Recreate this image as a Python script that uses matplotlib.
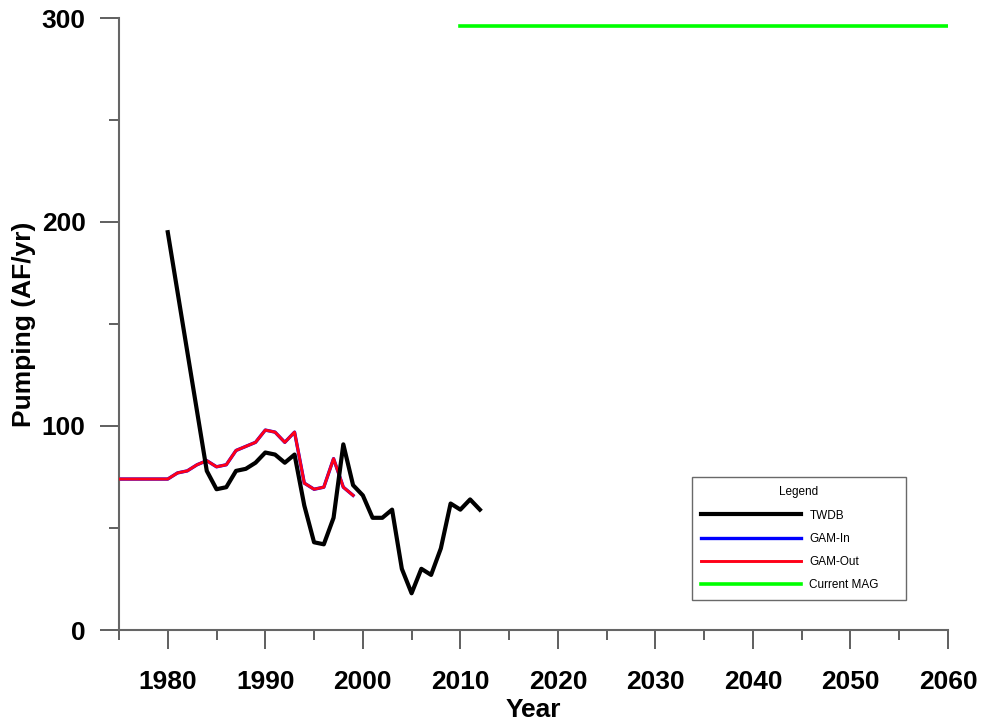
import matplotlib
matplotlib.use('Agg')
import matplotlib.pyplot as plt
from matplotlib.ticker import MultipleLocator

# TWDB historical pumping
twdb_years = [1980, 1984, 1985, 1986, 1987, 1988, 1989, 1990, 1991, 1992,
              1993, 1994, 1995, 1996, 1997, 1998, 1999, 2000, 2001, 2002,
              2003, 2004, 2005, 2006, 2007, 2008, 2009, 2010, 2011, 2012]
twdb_vals = [195, 78, 69, 70, 78, 79, 82, 87, 86, 82,
             86, 61, 43, 42, 55, 91, 71, 66, 55, 55,
             59, 30, 18, 30, 27, 40, 62, 59, 64, 59]

# GAM pumping (input and output coincide)
gam_years = [1975, 1976, 1977, 1978, 1979, 1980, 1981, 1982, 1983, 1984,
             1985, 1986, 1987, 1988, 1989, 1990, 1991, 1992, 1993, 1994,
             1995, 1996, 1997, 1998, 1999]
gam_in_vals = [74, 74, 74, 74, 74, 74, 77, 78, 81, 83,
               80, 81, 88, 90, 92, 98, 97, 92, 97, 72,
               69, 70, 84, 70, 66]
gam_out_vals = [74, 74, 74, 74, 74, 74, 77, 78, 81, 83,
                80, 81, 88, 90, 92, 98, 97, 92, 97, 72,
                69, 70, 84, 70, 66]

# current MAG
mag_years = [2010, 2060]
mag_vals = [296, 296]

x_ticks = [1980, 1990, 2000, 2010, 2020, 2030, 2040, 2050, 2060]
y_ticks = [0, 100, 200, 300]

plt.rcParams['font.family'] = ['Liberation Sans', 'DejaVu Sans']

fig = plt.figure(figsize=(9.84, 7.21), dpi=100)
ax = fig.add_axes([119/984, 1 - 630/721, 829/984, 612/721])

ax.plot(twdb_years, twdb_vals, color='black', lw=3.0, label='TWDB', zorder=4)
ax.plot(gam_years, gam_in_vals, color='#0000ff', lw=2.4, label='GAM-In', zorder=2)
ax.plot(gam_years, gam_out_vals, color='#ff0018', lw=2.1, label='GAM-Out', zorder=3)
ax.plot(mag_years, mag_vals, color='#00ff00', lw=2.6, label='Current MAG', zorder=3)

ax.set_xlim(1975, 2060)
ax.set_ylim(0, 300)
ax.set_xticks(x_ticks)
ax.set_yticks(y_ticks)
ax.xaxis.set_minor_locator(MultipleLocator(5))
ax.yaxis.set_minor_locator(MultipleLocator(50))

for side in ['top', 'right']:
    ax.spines[side].set_visible(False)
for side in ['left', 'bottom']:
    ax.spines[side].set_color('#666666')
    ax.spines[side].set_linewidth(1.5)

ax.tick_params(which='major', length=14, width=1.2, color='#444444',
               labelsize=19)
ax.tick_params(axis='x', which='major', pad=15)
ax.tick_params(axis='y', which='major', pad=10)
ax.tick_params(which='minor', length=7, width=1.2, color='#444444')
for lab in ax.get_xticklabels() + ax.get_yticklabels():
    lab.set_fontweight('bold')

ax.set_xlabel('Year', fontsize=19, fontweight='bold', labelpad=3)
ax.set_ylabel('Pumping (AF/yr)', fontsize=19, fontweight='bold', labelpad=4)

leg = ax.legend(loc='lower left', bbox_to_anchor=(0.691, 0.049, 0.258, 0.198),
                mode='expand', borderaxespad=0, title='Legend',
                fontsize=8.5, title_fontsize=8.5,
                handlelength=8.5, handletextpad=0.7, labelspacing=0.95,
                borderpad=0.75, frameon=True, fancybox=False)
leg.get_frame().set_edgecolor('#444444')
leg.get_frame().set_linewidth(1.0)

fig.savefig('out.png', dpi=100)
